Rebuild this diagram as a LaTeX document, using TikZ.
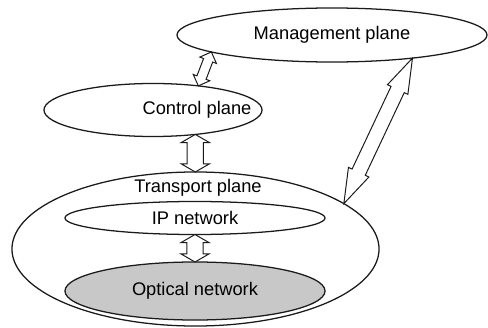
\documentclass[tikz,border=0pt]{standalone}
\usepackage{fontspec}
\setmainfont{Liberation Sans}
\usetikzlibrary{shapes.geometric,shapes.arrows,calc}
\definecolor{line}{HTML}{1A1A1A}
\definecolor{optical}{HTML}{C8C8C8}
\tikzset{
  plane/.style={ellipse, draw=line, line width=0.9pt, fill=white, inner sep=0pt, outer sep=0pt, font=\fontsize{13}{15}\selectfont},
  lbl/.style={inner sep=0pt, font=\fontsize{13}{15}\selectfont},
  dblarr/.style={double arrow, draw=line, line width=0.7pt, fill=white, inner xsep=0pt, outer sep=0pt},
  arrsmall/.style={dblarr, inner ysep=0.11cm, double arrow head extend=0.1cm, double arrow tip angle=90},
  arrmid/.style={dblarr, inner ysep=0.19cm, double arrow head extend=0.15cm, double arrow tip angle=120},
  arrlong/.style={dblarr, inner ysep=0.17cm, double arrow head extend=0.1cm, double arrow tip angle=36}
}
\newcommand{\DblArrow}[4]{% name, from, to, style
  \path let \p1=($(#3)-(#2)$) in
    node (#1) [#4, minimum height={veclen(\x1,\y1)}, rotate={atan2(\y1,\x1)}] at ($(#2)!0.5!(#3)$) {};
}

\begin{document}
\begin{tikzpicture}[x=0.025cm, y=-0.025cm]
  \useasboundingbox (0,0) rectangle (488,328);
  % planes
  \node[plane, minimum width=7.75cm, minimum height=1.35cm] (mgmt) at (332,35) {Management plane};
  \node[plane, minimum width=5.45cm, minimum height=1.325cm] (ctrl) at (153,110) {};
  \node[lbl] (ctrllabel) at (197,110) {Control plane};
  \node[plane, minimum width=9.175cm, minimum height=3.85cm] (tp) at (195.5,249) {};
  \node[lbl] (tplabel) at (198,188) {Transport plane};
  \node[plane, minimum width=6.5cm, minimum height=0.825cm] (ip) at (195,218) {IP network};
  \node[plane, fill=optical, minimum width=6.5cm, minimum height=1.45cm] (opt) at (195,291) {Optical network};
  % hollow double arrows
  \DblArrow{mc}{ctrl.28}{mgmt.188}{arrsmall}
  \DblArrow{ct}{ctrl.-30}{ctrl.-30 |- tp.north}{arrmid}
  \DblArrow{io}{ip.south}{opt.north}{arrmid}
  \DblArrow{mt}{tp.17}{mgmt.-16}{arrlong}
\end{tikzpicture}
\end{document}
